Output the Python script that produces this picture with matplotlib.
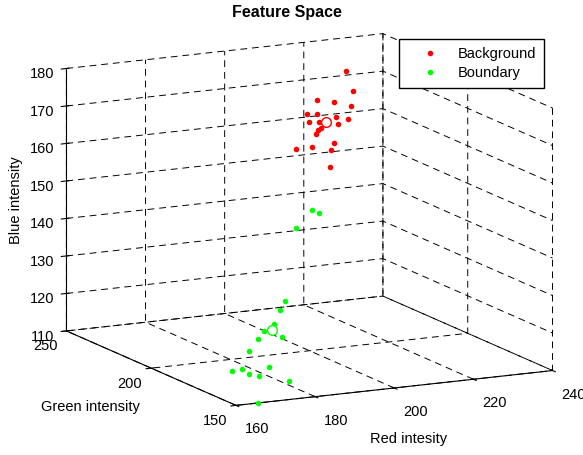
import matplotlib as mpl
import matplotlib.pyplot as plt
import numpy as np

mpl.rcParams["font.family"] = ["Liberation Sans", "DejaVu Sans"]
mpl.rcParams["font.size"] = 10.5
DASH = (0, (7, 5))
mpl.rcParams["grid.color"] = "k"
mpl.rcParams["grid.linestyle"] = DASH
mpl.rcParams["grid.linewidth"] = 0.7

# Background class (red, green, blue intensity)
bg_red = [222.2, 223.8, 214.8, 219.0, 223.3, 212.2, 214.8, 219.6, 212.8, 215.3,
          222.7, 220.1, 215.7, 215.1, 214.4, 219.1, 213.6, 209.5, 218.2, 218.0]
bg_green = [230] * 20
bg_blue = [176.2, 170.6, 169.1, 168.1, 166.6, 165.8, 165.5, 164.0, 163.6, 163.3,
           163.1, 162.1, 161.6, 161.2, 160.1, 157.3, 156.9, 156.7, 155.4, 150.9]

# Boundary class
bd_red = [187.9, 189.6, 183.8, 180.9, 179.6, 178.1, 175.7, 177.1, 174.1, 180.2,
          171.9, 167.6, 170.2, 171.9, 174.5, 177.0, 179.9, 165.5]
bd_green = [170] * 16 + [165, 150]
bd_blue = [154.9, 153.8, 150.5, 131.4, 129.1, 125.7, 124.1, 124.2, 122.2, 121.8,
           119.1, 114.2, 114.5, 113.1, 112.2, 114.3, 111.3, 110.0]

# class means
bg_mean = (217.0, 230, 163.1)
bd_mean = (177.6, 170, 124.2)

red_ticks = [160, 180, 200, 220, 240]
green_ticks = [150, 200, 250]
blue_ticks = list(range(110, 181, 10))

fig = plt.figure(figsize=(5.83, 4.55), dpi=100)
ax = fig.add_subplot(projection='3d', proj_type='ortho')
ax.set_position([0.021, 0.040, 1.0, 0.93])

ax.plot(bg_red, bg_green, bg_blue, 'o', color='red', markersize=4, mec='none')
ax.plot(bd_red, bd_green, bd_blue, 'o', color='#00ff00', markersize=4, mec='none')
ax.plot([bg_mean[0]], [bg_mean[1]], [bg_mean[2]], 'o', mfc='white', mec='red', markersize=7)
ax.plot([bd_mean[0]], [bd_mean[1]], [bd_mean[2]], 'o', mfc='white', mec='#00ff00', markersize=7)

ax.set_xlim(160, 240)
ax.set_ylim(150, 250)
ax.set_zlim(110, 180)
ax.set_xticks(red_ticks)
ax.set_xticklabels([str(t) for t in red_ticks], ha='left')
ax.set_yticks(green_ticks)
ax.set_yticklabels([str(t) for t in green_ticks], ha='right')
ax.set_zticks(blue_ticks)
ax.set_zticklabels([str(t) for t in blue_ticks], ha='right')

ax.set_box_aspect((1, 1.07, 0.76), zoom=1.34)
ax.view_init(elev=12.7, azim=-116.6)

for axis in (ax.xaxis, ax.yaxis, ax.zaxis):
    axis.set_pane_color((1, 1, 1, 0))
    axis.pane.set_edgecolor('k')
    axis.pane.set_linestyle(DASH)
    axis.pane.set_linewidth(0.7)
    axis.line.set_color('k')
    axis._axinfo['grid'].update(color='k', linestyle=DASH, linewidth=0.7)

ax.xaxis.set_tick_params(pad=0)
ax.yaxis.set_tick_params(pad=-3.5)
ax.zaxis.set_tick_params(pad=-4)

fig.text(0.70, 0.035, 'Red intesity', ha='center', va='center')
fig.text(0.155, 0.105, 'Green intensity', ha='center', va='center')
fig.text(0.028, 0.56, 'Blue intensity', ha='center', va='center', rotation=90)
fig.text(0.492, 0.972, 'Feature Space', ha='center', va='center', fontweight='bold', fontsize=11.5)

h1, = ax.plot([], [], 'o', color='red', markersize=4, mec='none')
h2, = ax.plot([], [], 'o', color='#00ff00', markersize=4, mec='none')
fig.legend([h1, h2], ['Background', 'Boundary'], loc='upper right',
           bbox_to_anchor=(0.933, 0.914), bbox_transform=fig.transFigure,
           borderaxespad=0, fancybox=False, edgecolor='k', framealpha=1,
           handlelength=3.2, handletextpad=0.25, borderpad=0.55, labelspacing=0.35)

plt.savefig('out.png', dpi=100)
